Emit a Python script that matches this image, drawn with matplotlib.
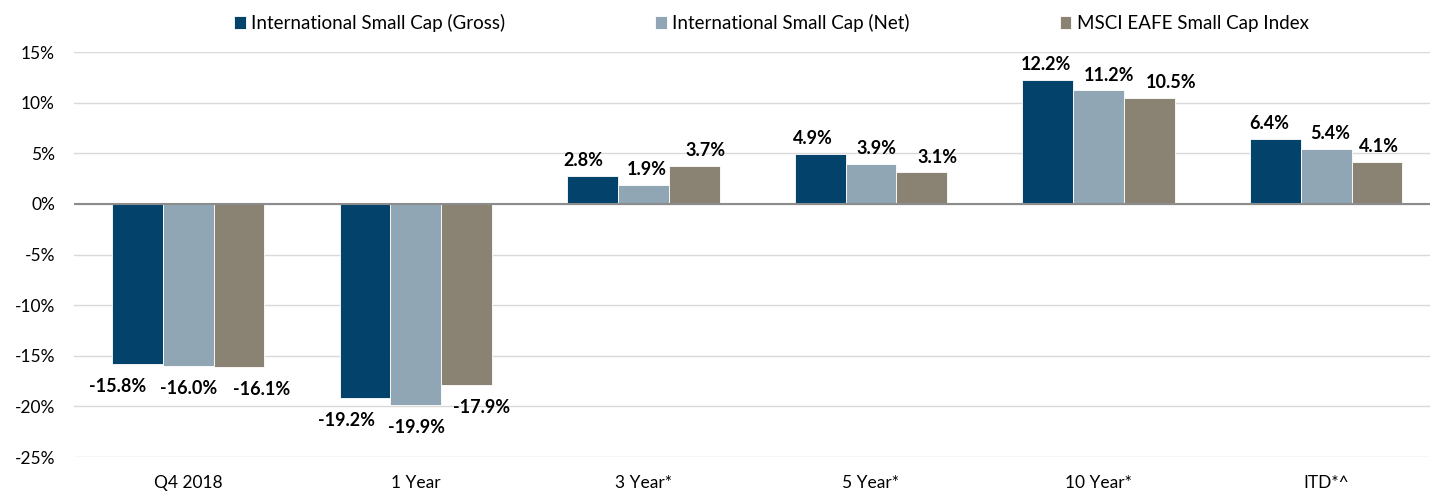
import matplotlib.pyplot as plt
import numpy as np

plt.rcParams["font.family"] = ["Lato", "DejaVu Sans"]

categories = ["Q4 2018", "1 Year", "3 Year*", "5 Year*", "10 Year*", "ITD*^"]
series_names = [
    "International Small Cap (Gross)",
    "International Small Cap (Net)",
    "MSCI EAFE Small Cap Index",
]
gross = [-15.8, -19.2, 2.8, 4.9, 12.2, 6.4]
net = [-16.0, -19.9, 1.9, 3.9, 11.2, 5.4]
index = [-16.1, -17.9, 3.7, 3.1, 10.5, 4.1]
yticks = [15, 10, 5, 0, -5, -10, -15, -20, -25]

colors = ["#02426B", "#90A6B4", "#8A8373"]
# sideways nudges (px) of the value labels, per series, as placed in the original
label_shift = [
    [-20, -19, -9, -7, -2, -6],
    [0, 1, 3, 5, 10, 4],
    [23, 15, 11, 16, 22, 2],
]

fig = plt.figure(figsize=(14.3, 4.93), dpi=100)
ax = fig.add_axes([0.052, 0.073, 0.955, 0.8215])

x = np.arange(len(categories))
width = 0.223
for i, (vals, name, c) in enumerate(zip([gross, net, index], series_names, colors)):
    pos = x + (i - 1) * width
    ax.bar(pos, vals, width, color=c, edgecolor="white", linewidth=0.6, label=name, zorder=3)
    for px, v, dx in zip(pos, vals, label_shift[i]):
        if v >= 0:
            off, va = 5, "bottom"
        else:
            off, va = -10, "top"
        ax.annotate(f"{v:.1f}%", (px, v), xytext=(dx * 0.72, off), textcoords="offset points",
                    ha="center", va=va, fontsize=13, fontweight="bold")

ax.set_xlim(-0.5, len(categories) - 0.5)
ax.set_ylim(-25, 15)
ax.set_yticks(yticks)
ax.set_yticklabels([f"{t}%" for t in yticks], fontsize=12.5)
ax.set_xticks(x)
ax.set_xticklabels(categories, fontsize=12.5)
ax.tick_params(length=0)
ax.tick_params(axis="x", pad=13)
ax.tick_params(axis="y", pad=14)
for s in ax.spines.values():
    s.set_visible(False)
ax.grid(axis="y", color="#D9D9D9", linewidth=1, zorder=0)
ax.axhline(0, color="#8C8C8C", linewidth=1.5, zorder=4)

fig.legend(loc="upper center", bbox_to_anchor=(0.5395, 1.005), ncol=3, frameon=False,
           fontsize=13.5, handlelength=0.6, handleheight=0.7, handletextpad=0.3,
           columnspacing=8)

fig.savefig("out.png", dpi=100)
